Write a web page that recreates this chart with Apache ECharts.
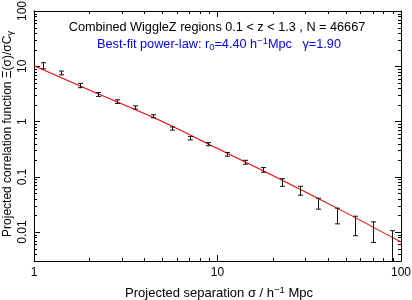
<!DOCTYPE html>
<html><head><meta charset="utf-8">
<script src="https://cdn.jsdelivr.net/npm/echarts@6/dist/echarts.min.js"></script>
<style>html,body{margin:0;padding:0;background:#fff}#c{width:412px;height:300px}</style>
</head><body><div id="c"></div>
<script>
// ---- data ----
const sigma = [1.12,1.41,1.78,2.24,2.82,3.55,4.47,5.62,7.08,8.91,11.2,14.1,17.8,22.4,28.2,35.5,44.7,56.2,70.8,89.1];
const xiValues = [10.3,7.6,4.5,3.1,2.3,1.8,1.25,0.75,0.50,0.39,0.256,0.184,0.134,0.080,0.057,0.0335,0.0206,0.014,0.0109,0.0066];
const xiErrors = [1.3,0.6,0.4,0.25,0.17,0.12,0.08,0.05,0.035,0.025,0.02,0.015,0.013,0.0125,0.0105,0.0075,0.0065,0.0054,0.0044,0.004];
const fitSigma = [1,2,5,10,20,50,100];
const fitValues = [10.2,3.72,1.0,0.324,0.1055,0.0225,0.0066];
const xTickLabels = ['1','10','100'];
const yTickLabels = ['0.01','0.1','1','10','100'];
const X_MIN = 1, X_MAX = 100, Y_MIN = 0.003, Y_MAX = 100;
const minorMult = [2,3,4,5,6,7,8,9];

const FONT = '"Liberation Sans", Arial, Helvetica, sans-serif';

function labelFor(list){
  return function(v){
    for (const s of list){ const n = Number(s); if (Math.abs(v - n) <= n*1e-6) return s; }
    return '';
  };
}

const errData = sigma.map((s,i)=>[s, xiValues[i], xiErrors[i]]);
const fitData = fitSigma.map((s,i)=>[s, fitValues[i]]);

const minorData = [];
[1,10].forEach(d=>minorMult.forEach(m=>minorData.push([m*d, 1, 0])));
[0.001,0.01,0.1,1,10].forEach(d=>minorMult.forEach(m=>{const v=m*d; if(v>Y_MIN*1.0001 && v<Y_MAX) minorData.push([1, v, 1]);}));

const chart = echarts.init(document.getElementById('c'));
const axisCommon = {
  type:'log', logBase:10,
  axisLine:{show:true, lineStyle:{color:'#000', width:1}},
  axisTick:{show:true, inside:true, length:6, lineStyle:{color:'#000', width:1}},
  splitLine:{show:false}, minorTick:{show:false}
};
chart.setOption({
  animation:false,
  backgroundColor:'#fff',
  grid:{left:34, right:11, top:11, bottom:39, show:false, containLabel:false, outerBoundsMode:'none'},
  xAxis:[
    Object.assign({}, axisCommon, {min:X_MIN, max:X_MAX, position:'bottom',
      axisLabel:{show:true, formatter:labelFor(xTickLabels), color:'#000', fontSize:12, fontFamily:FONT, margin:6}
    }),
    Object.assign({}, axisCommon, {min:X_MIN, max:X_MAX, position:'top', axisLabel:{show:false}})
  ],
  yAxis:[
    Object.assign({}, axisCommon, {min:Y_MIN, max:Y_MAX, position:'left',
      axisLabel:{show:true, rotate:90, formatter:labelFor(yTickLabels), color:'#000', fontSize:12, fontFamily:FONT, margin:5}
    }),
    Object.assign({}, axisCommon, {min:Y_MIN, max:Y_MAX, position:'right', axisLabel:{show:false}})
  ],
  graphic:[
    {type:'text', x:217, y:27, style:{text:'Combined WiggleZ regions 0.1 < z < 1.3 , N = 46667', fill:'#000', font:'12.7px '+FONT, align:'center', verticalAlign:'middle'}},
    {type:'text', x:219, y:44, style:{text:'Best-fit power-law: r{sub|0}=4.40 h{sup|−1}Mpc   γ=1.90', fill:'#0000ff', font:'12.7px '+FONT, align:'center', verticalAlign:'middle',
      rich:{sub:{fontSize:9.5, fill:'#0000ff', fontFamily:FONT, verticalAlign:'bottom', padding:[6,0,0,0]},
            sup:{fontSize:9.5, fill:'#0000ff', fontFamily:FONT, verticalAlign:'top', padding:[0,0,6,0]}}}},
    {type:'text', x:219, y:293, style:{text:'Projected separation σ / h{sup|−1} Mpc', fill:'#000', font:'13px '+FONT, align:'center', verticalAlign:'middle',
      rich:{sup:{fontSize:9.5, fill:'#000', fontFamily:FONT, verticalAlign:'top', padding:[0,0,6,0]}}}},
    {type:'text', x:8, y:134, rotation:Math.PI/2, style:{text:'Projected correlation function Ξ(σ)/σC{sub|γ}', fill:'#000', font:'12px '+FONT, align:'center', verticalAlign:'middle',
      rich:{sub:{fontSize:9, fill:'#000', fontFamily:FONT, verticalAlign:'bottom', padding:[6,0,0,0]}}}}
  ],
  series:[
    {type:'custom', xAxisIndex:0, yAxisIndex:0, data:minorData, silent:true, z:3,
      renderItem:function(params, api){
        const cs = params.coordSys;
        const kind = api.value(2);
        if (kind === 0){
          const px = Math.round(api.coord([api.value(0), 1])[0]) + 0.5;
          return {type:'group', children:[
            {type:'line', shape:{x1:px, y1:cs.y+cs.height, x2:px, y2:cs.y+cs.height-3}, style:{stroke:'#000', lineWidth:1}},
            {type:'line', shape:{x1:px, y1:cs.y, x2:px, y2:cs.y+3}, style:{stroke:'#000', lineWidth:1}}
          ]};
        } else {
          const py = Math.round(api.coord([1, api.value(1)])[1]) + 0.5;
          return {type:'group', children:[
            {type:'line', shape:{x1:cs.x, y1:py, x2:cs.x+3, y2:py}, style:{stroke:'#000', lineWidth:1}},
            {type:'line', shape:{x1:cs.x+cs.width, y1:py, x2:cs.x+cs.width-3, y2:py}, style:{stroke:'#000', lineWidth:1}}
          ]};
        }
      }
    },
    {type:'line', xAxisIndex:0, yAxisIndex:0, data:fitData, smooth:0.3, showSymbol:false, symbol:'none',
      lineStyle:{color:'#ff0000', width:1.1}, z:4},
    {type:'custom', xAxisIndex:0, yAxisIndex:0, data:errData, z:5,
      renderItem:function(params, api){
        const x = api.value(0), v = api.value(1), e = api.value(2);
        const lowV = v - e;
        const lo = Math.max(lowV, Y_MIN);
        const pT = api.coord([x, v + e]);
        const pB = api.coord([x, lo]);
        const px = Math.round(pT[0]) + 0.5;
        const cw = 2.5;
        const st = {stroke:'#111', lineWidth:1};
        const ch = [
          {type:'line', shape:{x1:px, y1:pT[1], x2:px, y2:pB[1]}, style:st},
          {type:'line', shape:{x1:px-cw, y1:pT[1], x2:px+cw, y2:pT[1]}, style:st}
        ];
        if (lowV > Y_MIN) ch.push({type:'line', shape:{x1:px-cw, y1:pB[1], x2:px+cw, y2:pB[1]}, style:st});
        return {type:'group', children:ch};
      }
    }
  ]
});
</script></body></html>
